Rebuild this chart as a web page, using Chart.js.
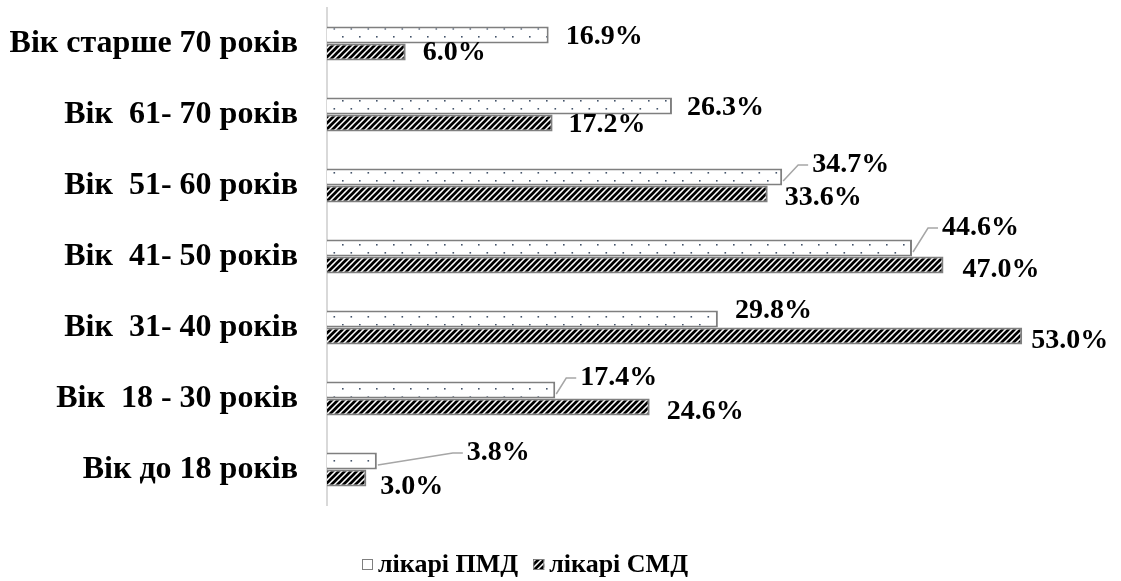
<!DOCTYPE html>
<html lang="uk">

<head>
    <meta charset="UTF-8">
    <title>Вік лікарів</title>
    <script src="https://cdn.jsdelivr.net/npm/chart.js@4.4.1/dist/chart.umd.min.js"></script>
    <style>
        html, body { margin: 0; padding: 0; background: #fff; }
        #wrap { width: 1121px; height: 581px; }
    </style>
</head>

<body>
    <div id="wrap"><canvas id="chart" width="1121" height="581"></canvas></div>

    <script>
        // вікові групи, зверху вниз
        const categories = [
            'Вік старше 70 років',
            'Вік  61- 70 років',
            'Вік  51- 60 років',
            'Вік  41- 50 років',
            'Вік  31- 40 років',
            'Вік  18 - 30 років',
            'Вік до 18 років'
        ]
        const seriesNames = ['лікарі ПМД', 'лікарі СМД']
        const pmdValues = [16.9, 26.3, 34.7, 44.6, 29.8, 17.4, 3.8]
        const smdValues = [6.0, 17.2, 33.6, 47.0, 53.0, 24.6, 3.0]

        // зсув підписів від кінця стовпчика [dx, dy] і чи потрібна виносна лінія
        const pmdLabelShift = [[17, 2], [15, 2], [30, -12], [30, -20], [17, -8], [25, -12], [90, -8]]
        const smdLabelShift = [[17, 1], [16, 2], [17, 4], [19, 5], [9, 5], [17, 5], [14, 9]]
        const pmdLeader = [false, false, true, true, false, true, true]
        const smdLeader = [false, false, false, false, false, false, false]

        const FONT = '"Liberation Serif", "Times New Roman", serif'

        //patterns-------------------------------------------
        function dotPattern() {
            const c = document.createElement('canvas')
            c.width = 17
            c.height = 16
            const g = c.getContext('2d')
            g.fillStyle = '#ffffff'
            g.fillRect(0, 0, 17, 16)
            g.fillStyle = '#44546a'
            g.fillRect(2, 4, 1.6, 1.6)
            g.fillRect(10.5, 12, 1.6, 1.6)
            return g.createPattern(c, 'repeat')
        }

        function hatchPattern() {
            const s = 6
            const c = document.createElement('canvas')
            c.width = s
            c.height = s
            const g = c.getContext('2d')
            g.fillStyle = '#ffffff'
            g.fillRect(0, 0, s, s)
            g.strokeStyle = '#000000'
            g.lineWidth = 2.7
            g.beginPath()
            g.moveTo(0, s); g.lineTo(s, 0)
            g.moveTo(-s / 2, s / 2); g.lineTo(s / 2, -s / 2)
            g.moveTo(s / 2, s * 1.5); g.lineTo(s * 1.5, s / 2)
            g.stroke()
            return g.createPattern(c, 'repeat')
        }

        //labels on bars-------------------------------------
        const valueLabels = {
            id: 'valueLabels',
            afterDatasetsDraw(chart) {
                const ctx = chart.ctx
                const shifts = [pmdLabelShift, smdLabelShift]
                const leaders = [pmdLeader, smdLeader]
                ctx.save()
                ctx.font = 'bold 28px ' + FONT
                ctx.textBaseline = 'middle'
                ctx.textAlign = 'left'
                chart.data.datasets.forEach((ds, di) => {
                    const meta = chart.getDatasetMeta(di)
                    meta.data.forEach((bar, i) => {
                        const [dx, dy] = shifts[di][i]
                        const tx = bar.x + dx
                        const ty = bar.y + dy
                        if (leaders[di][i]) {
                            ctx.strokeStyle = '#a6a6a6'
                            ctx.lineWidth = 1.5
                            ctx.beginPath()
                            ctx.moveTo(bar.x + 1, bar.y + 4)
                            ctx.lineTo(tx - 14, ty)
                            ctx.lineTo(tx - 4, ty)
                            ctx.stroke()
                        }
                        ctx.fillStyle = '#000000'
                        ctx.fillText(ds.data[i].toFixed(1) + '%', tx, ty)
                    })
                })
                ctx.restore()
            }
        }

        //legend---------------------------------------------
        const bottomLegend = {
            id: 'bottomLegend',
            afterDraw(chart) {
                const ctx = chart.ctx
                const y = 565
                let x = 362
                ctx.save()
                ctx.font = 'bold 26px ' + FONT
                ctx.textBaseline = 'middle'
                chart.data.datasets.forEach(ds => {
                    ctx.fillStyle = ds.backgroundColor
                    ctx.fillRect(x, y - 6, 11, 11)
                    ctx.strokeStyle = ds.borderColor
                    ctx.lineWidth = 1
                    ctx.strokeRect(x + 0.5, y - 5.5, 10, 10)
                    x += 16
                    ctx.fillStyle = '#000000'
                    ctx.fillText(ds.label, x, y)
                    x += ctx.measureText(ds.label).width + 15
                })
                ctx.restore()
            }
        }

        //chart-------------------------------------------
        const ctx = document.getElementById('chart').getContext('2d')
        const myChart = new Chart(ctx, {
            type: 'bar',
            data: {
                labels: categories,
                datasets: [{
                    label: seriesNames[0],
                    data: pmdValues,
                    backgroundColor: dotPattern(),
                    borderColor: '#7f7f7f',
                    borderWidth: 2
                }, {
                    label: seriesNames[1],
                    data: smdValues,
                    backgroundColor: hatchPattern(),
                    borderColor: '#7f7f7f',
                    borderWidth: 2
                }]
            },
            options: {
                indexAxis: 'y',
                responsive: false,
                animation: false,
                layout: {
                    padding: { top: 8, right: 7, bottom: 76, left: 0 }
                },
                datasets: {
                    bar: {
                        categoryPercentage: 0.48,
                        barPercentage: 1
                    }
                },
                scales: {
                    x: {
                        display: false,
                        min: 0,
                        max: 60
                    },
                    y: {
                        afterFit(scale) {
                            scale.width = 327
                            scale.paddingTop = 0
                            scale.paddingBottom = 0
                        },
                        grid: { display: false },
                        border: { display: true, color: '#d9d9d9', width: 2 },
                        ticks: {
                            color: '#000000',
                            padding: 21,
                            font: { family: FONT, size: 32, weight: 'bold' }
                        }
                    }
                },
                plugins: {
                    legend: { display: false },
                    tooltip: { enabled: false }
                }
            },
            plugins: [valueLabels, bottomLegend]
        })
    </script>

</body>

</html>
